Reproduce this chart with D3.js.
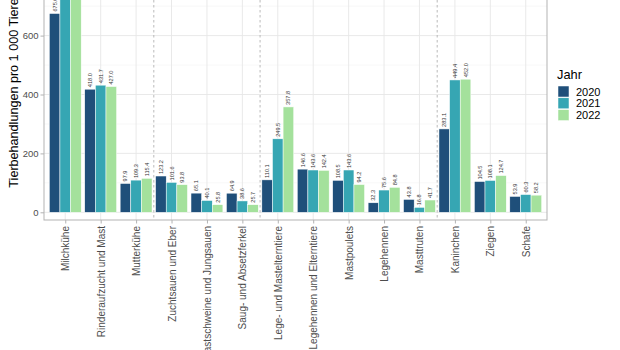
<!DOCTYPE html>
<html>
<head>
<meta charset="utf-8">
<script src="https://cdn.jsdelivr.net/npm/d3@7"></script>
<style>
  body { margin: 0; background: #fff; }
  svg { font-family: "Liberation Sans", Arial, sans-serif; display: block; }
</style>
</head>
<body>
<div id="chart"></div>
<script>
// data (Milchkühe 2021/2022 run off the top, estimated)
const categories = ["Milchkühe", "Rinderaufzucht und Mast", "Mutterkühe", "Zuchtsauen und Eber",
    "Mastschweine und Jungsauen", "Saug- und Absetzferkel", "Lege- und Mastelterntiere",
    "Legehennen und Elterntiere", "Mastpoulets", "Legehennen", "Masttruten", "Kaninchen", "Ziegen", "Schafe"];
const years = ["2020", "2021", "2022"];
const values2020 = [675.0, 418.0, 97.9, 123.2, 65.1, 64.9, 110.1, 146.6, 108.5, 32.3, 43.8, 283.1, 104.5, 53.9];
const values2021 = [760.0, 431.7, 109.3, 101.6, 40.1, 38.6, 249.5, 143.6, 143.6, 75.6, 16.8, 449.4, 108.1, 60.3];
const values2022 = [765.0, 427.0, 115.4, 93.8, 25.8, 25.7, 357.8, 142.4, 94.2, 84.8, 41.7, 452.0, 124.7, 58.2];
const yTicks = [0, 200, 400, 600, 800];
const yMinor = [100, 300, 500, 700];
const separators = ["Mutterkühe", "Saug- und Absetzferkel", "Masttruten"];

const colors = ["#1f4f7a", "#36a6b3", "#a4e19c"];

let width = 620, height = 350;
let panel = { left: 44, right: 547, top: -40, bottom: 220 };

const svg = d3.select("#chart").append("svg").attr("width", width).attr("height", height);

// discrete axis with ggplot-like 0.6 expansion
const unit = (panel.right - panel.left) / (categories.length - 1 + 1.2);
const xScale = d3.scalePoint().domain(categories)
    .range([panel.left + 0.6 * unit, panel.right - 0.6 * unit]);
const xSub = d3.scaleBand().domain(years).range([-0.45 * unit, 0.45 * unit]);

const yScale = d3.scaleLinear().domain([0, 800]).range([212.3, 212.3 - 800 * 0.2945]);

// panel grid
const grid = svg.append("g");
grid.selectAll(".minor").data(yMinor).enter().append("line")
    .attr("x1", panel.left).attr("x2", panel.right)
    .attr("y1", d => yScale(d)).attr("y2", d => yScale(d))
    .attr("stroke", "#f2f2f2").attr("stroke-width", 0.6);
grid.selectAll(".major").data(yTicks).enter().append("line")
    .attr("x1", panel.left).attr("x2", panel.right)
    .attr("y1", d => yScale(d)).attr("y2", d => yScale(d))
    .attr("stroke", "#e6e6e6").attr("stroke-width", 0.9);
grid.selectAll(".vert").data(categories).enter().append("line")
    .attr("x1", d => xScale(d)).attr("x2", d => xScale(d))
    .attr("y1", panel.top).attr("y2", panel.bottom)
    .attr("stroke", "#e6e6e6").attr("stroke-width", 0.9);

// dashed separators between animal groups
grid.selectAll(".sep").data(separators).enter().append("line")
    .attr("x1", d => xScale(d) + unit / 2).attr("x2", d => xScale(d) + unit / 2)
    .attr("y1", panel.top).attr("y2", panel.bottom)
    .attr("stroke", "#a8a8a8").attr("stroke-width", 0.8).attr("stroke-dasharray", "2.5,2.5");

// bars
const rows = categories.map((c, i) => ({
    name: c,
    vals: [values2020[i], values2021[i], values2022[i]]
}));

const groups = svg.append("g").selectAll("g").data(rows).enter().append("g")
    .attr("transform", d => "translate(" + xScale(d.name) + ",0)");

groups.selectAll("rect")
    .data(d => years.map((y, k) => ({ key: y, value: d.vals[k], k: k })))
    .enter().append("rect")
    .attr("x", d => xSub(d.key))
    .attr("y", d => yScale(d.value))
    .attr("width", xSub.bandwidth())
    .attr("height", d => yScale(0) - yScale(d.value))
    .attr("fill", d => colors[d.k])
    .attr("stroke", "#fff").attr("stroke-width", 0.5);

// value labels; the ones whose bar runs off the top are out of view
groups.selectAll("text")
    .data(d => years.map((y, k) => ({ key: y, value: d.vals[k] })).filter(d => yScale(d.value) > 5))
    .enter().append("text")
    .attr("transform", d => "translate(" + (xSub(d.key) + xSub.bandwidth() / 2 + 2) + "," + (yScale(d.value) - 2) + ") rotate(-90)")
    .attr("font-size", 5.6)
    .attr("fill", "#333")
    .text(d => d.value.toFixed(1));

// panel border
svg.append("rect")
    .attr("x", panel.left).attr("y", panel.top)
    .attr("width", panel.right - panel.left).attr("height", panel.bottom - panel.top)
    .attr("fill", "none").attr("stroke", "#b3b3b3").attr("stroke-width", 1);

// y axis
const yAxis = svg.append("g").attr("transform", "translate(" + panel.left + ",0)")
    .call(d3.axisLeft(yScale).tickValues(yTicks).tickSize(3.5).tickPadding(2));
yAxis.select(".domain").remove();
yAxis.selectAll("line").attr("stroke", "#b3b3b3");
yAxis.selectAll("text").attr("font-size", 9.5).attr("fill", "#4d4d4d")
    .attr("font-family", "Liberation Sans, Arial, sans-serif");

// x axis
const xAxis = svg.append("g").attr("transform", "translate(0," + panel.bottom + ")")
    .call(d3.axisBottom(xScale).tickSize(3.5).tickPadding(2));
xAxis.select(".domain").remove();
xAxis.selectAll("line").attr("stroke", "#b3b3b3");
xAxis.selectAll("text")
    .attr("font-size", 10).attr("fill", "#4d4d4d")
    .attr("font-family", "Liberation Sans, Arial, sans-serif")
    .attr("text-anchor", "end")
    .attr("dy", null)
    .attr("y", 0)
    .attr("x", 0)
    .attr("transform", "translate(3.5,6) rotate(-90)");

// y title
svg.append("text")
    .attr("transform", "translate(18," + ((panel.top + panel.bottom) / 2 + 3) + ") rotate(-90)")
    .attr("text-anchor", "middle")
    .attr("font-size", 12.6)
    .attr("fill", "#000")
    .text("Tierbehandlungen pro 1 000 Tiere");

// legend
const legend = svg.append("g").attr("transform", "translate(557,0)");
legend.append("text").attr("x", 0).attr("y", 79).attr("font-size", 12.8).text("Jahr");
const items = legend.selectAll(".item").data(years).enter().append("g")
    .attr("transform", (d, i) => "translate(1," + (86 + i * 11.8) + ")");
items.append("rect").attr("width", 11).attr("height", 11)
    .attr("fill", (d, i) => colors[i]).attr("stroke", "#fff").attr("stroke-width", 0.5);
items.append("text").attr("x", 18).attr("y", 9.5).attr("font-size", 11).text(d => d);
</script>
</body>
</html>
